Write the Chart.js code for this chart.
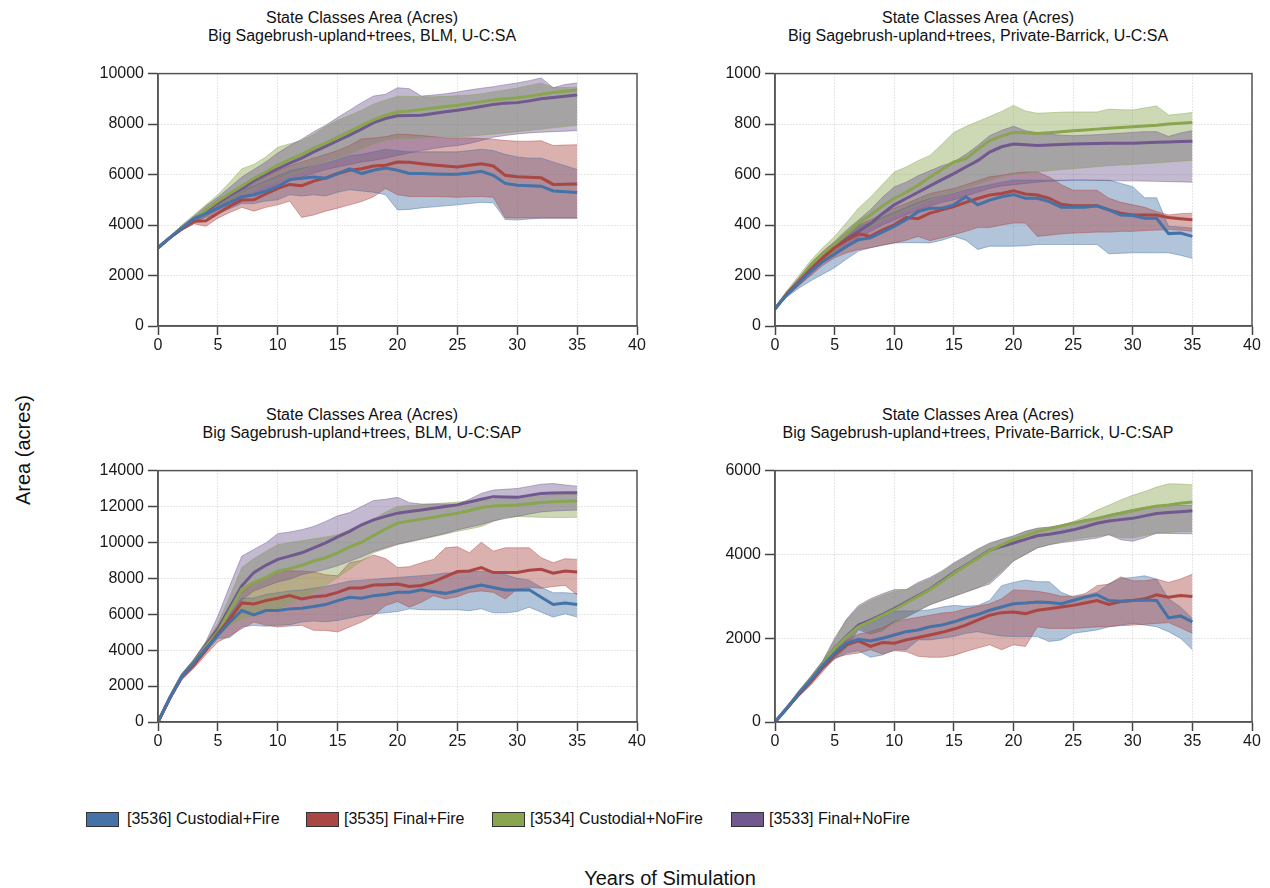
<!DOCTYPE html>
<html lang="en">
<head>
<meta charset="UTF-8">
<title>State Classes Area (Acres)</title>
<script src="https://cdn.jsdelivr.net/npm/chart.js"></script>
<style>
    * { margin: 0; padding: 0; box-sizing: border-box; }
    body {
        width: 1270px;
        height: 888px;
        background: #fff;
        font-family: 'Liberation Sans', Arial, sans-serif;
        color: #111;
        position: relative;
        overflow: hidden;
    }
    .box { position: absolute; }
    .title {
        position: absolute;
        width: 460px;
        text-align: center;
        font-size: 16px;
        line-height: 18px;
    }
    .axis-title { position: absolute; font-size: 20px; white-space: nowrap; }
    .y-title { left: 23px; top: 450px; transform: translate(-50%, -50%) rotate(-90deg); }
    .x-title { left: 670px; top: 878px; transform: translate(-50%, -50%); }
    .swatch { position: absolute; top: 812px; width: 33px; height: 15px; border: 1px solid #333; }
    .legend-text { position: absolute; top: 810px; font-size: 16px; line-height: 18px; white-space: nowrap; }
</style>
</head>
<body>
<div class="title" style="left:132px; top:9px">State Classes Area (Acres)<br>Big Sagebrush-upland+trees, BLM, U-C:SA</div>
<div class="title" style="left:748px; top:9px">State Classes Area (Acres)<br>Big Sagebrush-upland+trees, Private-Barrick, U-C:SA</div>
<div class="title" style="left:132px; top:406px">State Classes Area (Acres)<br>Big Sagebrush-upland+trees, BLM, U-C:SAP</div>
<div class="title" style="left:748px; top:406px">State Classes Area (Acres)<br>Big Sagebrush-upland+trees, Private-Barrick, U-C:SAP</div>

<div class="box" id="box1"><canvas id="c1"></canvas></div>
<div class="box" id="box2"><canvas id="c2"></canvas></div>
<div class="box" id="box3"><canvas id="c3"></canvas></div>
<div class="box" id="box4"><canvas id="c4"></canvas></div>

<div class="axis-title y-title">Area (acres)</div>
<div class="axis-title x-title">Years of Simulation</div>

<div class="swatch" style="left:86px; background:#4572A7"></div>
<div class="legend-text" style="left:127px">[3536] Custodial+Fire</div>
<div class="swatch" style="left:306px; background:#AA4643"></div>
<div class="legend-text" style="left:344px">[3535] Final+Fire</div>
<div class="swatch" style="left:492px; background:#89A54E"></div>
<div class="legend-text" style="left:530px">[3534] Custodial+NoFire</div>
<div class="swatch" style="left:731px; background:#71588F"></div>
<div class="legend-text" style="left:769px">[3533] Final+NoFire</div>

<script>
const years = [0,1,2,3,4,5,6,7,8,9,10,11,12,13,14,15,16,17,18,19,20,21,22,23,24,25,26,27,28,29,30,31,32,33,34,35];
const xTicks = [0, 40, 5];

// BLM, U-C:SA
const b1Mean = [3100,3500,3880,4250,4450,4670,4900,5120,5190,5350,5520,5800,5850,5900,5850,6040,6230,6040,6170,6260,6170,6040,6040,6020,6010,6010,6060,6130,5970,5650,5580,5560,5540,5350,5320,5290];
const b1Min = [3100,3480,3830,4150,4300,4450,4650,4850,4850,4950,5000,5200,5150,5200,5150,5300,5400,5350,5300,5200,4600,4620,4680,4720,4760,4800,4850,4900,4880,4220,4200,4240,4270,4270,4270,4270];
const b1Max = [3100,3520,3920,4330,4570,4850,5150,5400,5550,5750,5950,6150,6250,6350,6450,6600,6750,6800,6900,7000,6950,6900,6900,6900,6900,6900,6950,7000,6950,6800,6700,6650,6650,6500,6350,6200];
const r1Mean = [3100,3500,3850,4150,4170,4470,4750,4990,5000,5230,5450,5610,5560,5740,5870,6040,6170,6230,6340,6370,6500,6490,6430,6380,6340,6300,6370,6430,6340,5970,5910,5890,5870,5610,5620,5630];
const r1Min = [3100,3480,3800,4050,3950,4270,4500,4700,4550,4700,4800,4950,4300,4400,4550,4670,4800,4930,5120,5450,5200,5130,5130,5130,5120,5100,5120,5130,5100,4280,4280,4280,4280,4280,4280,4280];
const r1Max = [3100,3520,3900,4250,4450,4800,5150,5450,5650,5900,6150,6350,6500,6650,6800,6950,7150,7410,7450,7500,7600,7580,7550,7500,7450,7450,7450,7430,7400,7350,7320,7320,7340,7150,7170,7180];
const g1Mean = [3100,3500,3900,4200,4600,4950,5250,5550,5850,6100,6380,6600,6800,7050,7250,7480,7700,7950,8170,8350,8480,8520,8580,8640,8700,8750,8820,8880,8950,9000,9040,9100,9180,9250,9300,9350];
const g1Min = [3100,3450,3800,4100,4400,4700,4950,5200,5450,5650,5800,6000,6150,6350,6500,6650,6800,7000,7200,7350,7420,7430,7450,7470,7480,7500,7520,7560,7600,7650,7700,7750,7800,7850,7900,7950];
const g1Max = [3100,3550,4000,4400,4800,5200,5700,6230,6400,6700,7080,7220,7350,7600,7900,8150,8350,8550,8800,8950,9100,9100,9080,9080,9100,9120,9150,9200,9280,9350,9430,9530,9630,9450,9450,9450];
const p1Mean = [3100,3500,3880,4180,4550,4880,5180,5450,5750,6000,6230,6450,6650,6900,7120,7340,7560,7800,8060,8220,8330,8340,8350,8420,8490,8550,8620,8700,8780,8830,8850,8920,9000,9050,9100,9150];
const p1Min = [3100,3450,3780,4050,4350,4600,4850,5050,5250,5450,5600,5750,5900,6050,6200,6300,6400,6500,6560,6650,6760,6850,6950,7030,7100,7150,7230,7350,7480,7550,7610,7650,7680,7700,7720,7740];
const p1Max = [3100,3550,3980,4350,4750,5100,5500,5900,6200,6500,6850,7150,7400,7700,7950,8260,8550,8850,9110,9180,9440,9400,9110,9150,9200,9270,9350,9420,9480,9560,9630,9720,9830,9440,9570,9630];

// Private-Barrick, U-C:SA
const b2Mean = [68,125,172,218,255,284,315,342,349,372,395,421,453,467,467,480,512,480,499,512,521,506,506,493,470,470,470,476,460,440,438,427,427,366,368,355];
const b2Min = [68,115,150,179,205,231,265,297,310,320,329,330,330,329,340,355,340,303,316,316,316,318,323,323,323,323,323,323,286,288,290,290,290,290,280,268];
const b2Max = [68,130,185,235,280,320,360,395,410,430,450,470,490,505,515,525,540,550,560,570,578,578,578,578,578,578,578,578,578,565,552,508,508,395,392,388];
const r2Mean = [68,128,175,225,270,310,340,365,355,380,401,430,425,447,460,473,490,505,519,525,536,523,519,506,482,476,476,476,460,447,440,440,440,430,425,421];
const r2Min = [68,118,160,200,240,270,290,303,310,320,329,340,355,338,350,362,375,390,390,400,408,408,355,360,365,368,370,372,372,375,375,378,380,382,380,375];
const r2Max = [68,135,190,245,290,329,370,401,420,445,467,485,505,525,535,545,560,575,591,597,605,610,610,590,560,538,538,538,506,490,480,470,453,440,445,447];
const g2Mean = [68,130,180,240,285,323,365,408,440,475,506,530,558,590,620,650,663,700,735,752,767,766,763,766,770,774,777,780,783,786,789,792,795,800,803,806];
const g2Min = [68,120,160,210,255,300,340,370,395,420,440,460,480,500,515,530,545,560,575,590,600,605,610,615,620,623,627,631,635,638,640,643,646,650,653,656];
const g2Max = [68,140,200,260,310,355,410,467,510,560,610,630,655,676,720,767,790,810,830,850,874,852,843,845,847,848,848,848,859,857,856,864,872,836,840,846];
const p2Mean = [68,128,178,235,275,310,345,375,405,445,480,505,530,555,580,604,630,655,689,710,721,718,715,717,719,721,722,723,724,724,724,726,728,729,731,732];
const p2Min = [68,118,160,205,250,290,320,350,375,400,420,440,460,475,490,500,515,530,545,555,560,565,570,573,576,578,578,577,576,575,575,574,573,572,571,570];
const p2Max = [68,135,190,250,295,335,380,420,460,510,551,570,595,615,635,650,680,715,754,775,791,774,765,760,756,754,756,758,761,764,767,770,770,751,765,774];

// BLM, U-C:SAP
const b3Mean = [0,1350,2550,3300,4100,4830,5566,6209,5970,6209,6209,6300,6338,6430,6540,6760,6944,6890,7036,7100,7220,7230,7366,7256,7164,7311,7495,7624,7495,7348,7348,7360,6944,6540,6632,6540];
const b3Min = [0,1300,2450,3150,3900,4650,4700,5290,5382,5330,5382,5420,5566,5620,5580,5658,5786,5933,6025,6080,6154,6300,6250,6250,6250,6250,6200,6300,6080,6080,6154,6393,6117,5842,6025,5842];
const b3Max = [0,1400,2650,3450,4350,5100,6000,6900,6900,7100,7200,7300,7350,7450,7550,7700,7850,7900,7950,8000,8050,8100,8150,8200,8300,8300,8350,8400,8350,8200,8000,7900,7500,7200,7200,7150];
const r3Mean = [0,1330,2500,3180,4004,4923,5750,6632,6577,6760,6890,7036,6852,6980,7036,7220,7458,7458,7624,7650,7679,7550,7600,7807,8100,8377,8413,8597,8321,8321,8321,8450,8505,8285,8413,8358];
const r3Min = [0,1250,2350,3000,3750,4460,4800,5200,5566,5400,5290,5350,5382,5107,5100,5015,5290,5566,5933,6484,6705,6393,6668,7036,6852,6980,7220,7300,7220,6852,7403,7500,7450,7550,7600,7072];
const r3Max = [0,1400,2650,3400,4250,5300,6300,7220,7700,8100,8400,8420,8400,8350,8200,8140,8870,9000,9300,9100,8600,8650,8870,9056,9700,9755,9424,10010,9515,9700,9700,9700,9148,8870,9093,9056];
const g3Mean = [0,1350,2550,3330,4200,5015,6209,7403,7770,8046,8413,8540,8726,8965,9148,9424,9755,10012,10380,10750,11077,11190,11297,11400,11520,11628,11780,11940,12030,12060,12090,12160,12230,12260,12290,12310];
const g3Min = [0,1300,2450,3150,3950,4900,5400,5750,5950,6150,6300,6600,6900,7220,7600,8046,8500,8965,9424,9650,9880,10020,10160,10310,10470,10620,10750,10890,11170,11400,11450,11420,11400,11390,11390,11400];
const g3Max = [0,1400,2650,3500,4450,5500,7000,8600,9100,9500,9880,10000,10100,10200,10300,10430,10700,11000,11300,11700,12000,12050,12100,12150,12200,12250,12300,12350,12400,12450,12500,12550,12600,12650,12680,12700];
const p3Mean = [0,1380,2600,3362,4280,5199,6393,7587,8320,8726,9057,9240,9424,9700,9975,10306,10618,10985,11260,11450,11630,11720,11810,11900,12000,12090,12250,12400,12550,12530,12510,12620,12730,12750,12760,12770];
const p3Min = [0,1330,2500,3250,4100,4950,5900,6800,7300,7550,7800,7950,8200,8350,8500,8700,8950,9200,9500,9700,9900,10050,10200,10350,10500,10700,10850,11000,11200,11330,11450,11580,11700,11750,11780,11800];
const p3Max = [0,1420,2700,3500,4480,5900,7600,9240,9608,9975,10490,10580,10710,10890,11170,11480,11660,12000,12330,12400,12510,12215,12140,12140,12140,12140,12400,12730,12915,12960,13005,13120,13245,13280,13200,13135];

// Private-Barrick, U-C:SAP
const b4Mean = [0,330,680,1000,1350,1646,1880,1975,1936,2000,2077,2156,2195,2274,2313,2391,2485,2564,2666,2744,2822,2838,2862,2850,2822,2900,2980,3034,2900,2880,2900,2910,2900,2485,2532,2391];
const b4Min = [0,300,630,920,1250,1500,1650,1700,1545,1600,1725,1725,1960,1960,2000,2040,2117,2156,2100,2050,2038,2038,2038,1920,1960,2117,2156,2195,2274,2313,2352,2313,2274,2156,2000,1725];
const b4Max = [0,360,730,1080,1450,1800,2100,2300,2400,2500,2642,2650,2650,2680,2744,2783,2760,2780,2900,3254,3332,3387,3348,3348,3097,2980,3020,3097,3300,3426,3450,3489,3410,2940,2744,2470];
const r4Mean = [0,320,660,960,1300,1607,1842,1936,1803,1897,1880,1960,2015,2077,2140,2218,2313,2430,2548,2610,2626,2587,2666,2705,2744,2783,2838,2900,2806,2877,2900,2940,3034,2980,3018,2995];
const r4Min = [0,290,610,880,1200,1530,1607,1646,1725,1623,1700,1680,1568,1545,1545,1590,1685,1764,1842,1725,1842,1803,2274,2234,2234,2234,2250,2270,2274,2300,2313,2330,2352,2372,2250,2117];
const r4Max = [0,350,710,1040,1400,1700,1950,2100,2150,2250,2391,2450,2500,2550,2600,2626,2700,2760,2822,2940,3152,3140,3120,3070,3003,3003,3060,3254,3293,3465,3371,3371,3410,3332,3410,3528];
const g4Mean = [0,335,690,1010,1380,1760,2030,2274,2400,2540,2680,2840,3000,3160,3350,3550,3730,3910,4090,4230,4351,4450,4547,4610,4680,4743,4800,4860,4923,4980,5041,5100,5150,5180,5220,5253];
const g4Min = [0,310,640,950,1300,1530,1800,2234,2117,2195,2350,2500,2650,2800,2900,3000,3100,3200,3350,3600,3850,4000,4155,4230,4300,4350,4400,4430,4470,4400,4390,4450,4500,4520,4540,4547];
const g4Max = [0,365,740,1080,1450,1950,2450,2740,2900,3020,3120,3150,3300,3420,3580,3780,3940,4110,4250,4350,4430,4550,4620,4650,4700,4782,4900,5057,5174,5300,5410,5500,5606,5684,5680,5660];
const p4Mean = [0,340,666,980,1372,1764,2038,2313,2430,2564,2705,2862,3018,3175,3371,3567,3740,3920,4100,4190,4273,4360,4445,4480,4530,4586,4660,4743,4798,4830,4860,4920,4978,5000,5020,5041];
const p4Min = [0,300,620,930,1280,1520,1780,2200,2100,2180,2400,2500,2650,2800,2900,3000,3100,3200,3293,3550,3842,4000,4155,4230,4280,4312,4350,4390,4470,4350,4312,4400,4508,4500,4495,4492];
const p4Max = [0,370,750,1090,1460,2000,2450,2783,2940,3058,3160,3160,3332,3450,3606,3802,3960,4130,4273,4360,4445,4550,4626,4650,4700,4759,4837,4860,4950,5010,5072,5120,5174,5160,5170,5174];

// y axis: [max, step] per panel
const yAxis1 = [10000, 2000];
const yAxis2 = [1000, 200];
const yAxis3 = [14000, 2000];
const yAxis4 = [6000, 2000];

const colors = {
    blue: [69, 114, 167],
    red: [170, 70, 67],
    green: [137, 165, 78],
    purple: [113, 88, 143]
};
const rgba = (c, a) => `rgba(${c[0]},${c[1]},${c[2]},${a})`;
const pts = arr => arr.map((v, i) => ({ x: years[i], y: v }));

const framePlugin = {
    id: 'frame',
    afterDraw(chart) {
        const { ctx, chartArea: a } = chart;
        ctx.save();
        ctx.strokeStyle = '#555';
        ctx.lineWidth = 1.5;
        ctx.strokeRect(a.left, a.top, a.right - a.left, a.bottom - a.top);
        ctx.restore();
    }
};

function makePanel(id, plot, yAx, series) {
    const box = document.getElementById('box' + id);
    const yW = 68, padTop = 11, xH = 34, padRight = 16;
    box.style.left = (plot.l - yW) + 'px';
    box.style.top = (plot.t - padTop) + 'px';
    box.style.width = (plot.w + yW + padRight) + 'px';
    box.style.height = (plot.h + padTop + xH) + 'px';

    // bands: the filler paints from the last dataset to the first,
    // so purple goes first to end up on top, blue last to sit at the bottom
    const datasets = [];
    series.slice().reverse().forEach(s => {
        datasets.push({ data: pts(s.min), borderColor: rgba(s.color, 0.45), borderWidth: 1, pointRadius: 0, fill: false, order: 2 });
        datasets.push({ data: pts(s.max), borderColor: rgba(s.color, 0.45), borderWidth: 1, pointRadius: 0,
            fill: '-1', backgroundColor: rgba(s.color, 0.42), order: 2 });
    });
    series.forEach(s => {
        datasets.push({ data: pts(s.mean), borderColor: rgba(s.color, 1), borderWidth: 3, pointRadius: 0, fill: false, order: 0 });
    });

    const tickFont = { family: "'Liberation Sans', Arial, sans-serif", size: 16 };
    new Chart(document.getElementById('c' + id), {
        type: 'line',
        data: { datasets },
        options: {
            responsive: true,
            maintainAspectRatio: false,
            animation: false,
            layout: { padding: { top: padTop, right: padRight, left: 0, bottom: 0 } },
            plugins: {
                legend: { display: false },
                tooltip: { enabled: false },
                filler: { drawTime: 'beforeDatasetsDraw' }
            },
            scales: {
                x: {
                    type: 'linear',
                    min: xTicks[0], max: xTicks[1],
                    ticks: { stepSize: xTicks[2], color: '#1a1a1a', font: tickFont, padding: 1, maxRotation: 0, callback: v => String(v) },
                    grid: { color: '#cdcdcd', lineWidth: 1, tickLength: 9, tickColor: '#444', tickWidth: 1.5 },
                    border: { color: '#555', width: 1.5, dash: [1, 2] },
                    afterFit: sc => { sc.height = xH; }
                },
                y: {
                    min: 0, max: yAx[0],
                    ticks: { stepSize: yAx[1], color: '#1a1a1a', font: tickFont, padding: 4, callback: v => String(v) },
                    grid: { color: '#cdcdcd', lineWidth: 1, tickLength: 10, tickColor: '#444', tickWidth: 1.5 },
                    border: { color: '#555', width: 1.5, dash: [1, 2] },
                    afterFit: sc => { sc.width = yW; }
                }
            }
        },
        plugins: [framePlugin]
    });
}

const seriesOf = (b, r, g, p) => [
    { color: colors.blue, mean: b[0], min: b[1], max: b[2] },
    { color: colors.red, mean: r[0], min: r[1], max: r[2] },
    { color: colors.green, mean: g[0], min: g[1], max: g[2] },
    { color: colors.purple, mean: p[0], min: p[1], max: p[2] }
];

makePanel(1, { l: 158, t: 71, w: 479, h: 255 }, yAxis1,
    seriesOf([b1Mean, b1Min, b1Max], [r1Mean, r1Min, r1Max], [g1Mean, g1Min, g1Max], [p1Mean, p1Min, p1Max]));
makePanel(2, { l: 775, t: 71, w: 477, h: 255 }, yAxis2,
    seriesOf([b2Mean, b2Min, b2Max], [r2Mean, r2Min, r2Max], [g2Mean, g2Min, g2Max], [p2Mean, p2Min, p2Max]));
makePanel(3, { l: 158, t: 468, w: 479, h: 254 }, yAxis3,
    seriesOf([b3Mean, b3Min, b3Max], [r3Mean, r3Min, r3Max], [g3Mean, g3Min, g3Max], [p3Mean, p3Min, p3Max]));
makePanel(4, { l: 775, t: 468, w: 477, h: 254 }, yAxis4,
    seriesOf([b4Mean, b4Min, b4Max], [r4Mean, r4Min, r4Max], [g4Mean, g4Min, g4Max], [p4Mean, p4Min, p4Max]));
</script>
</body>
</html>
